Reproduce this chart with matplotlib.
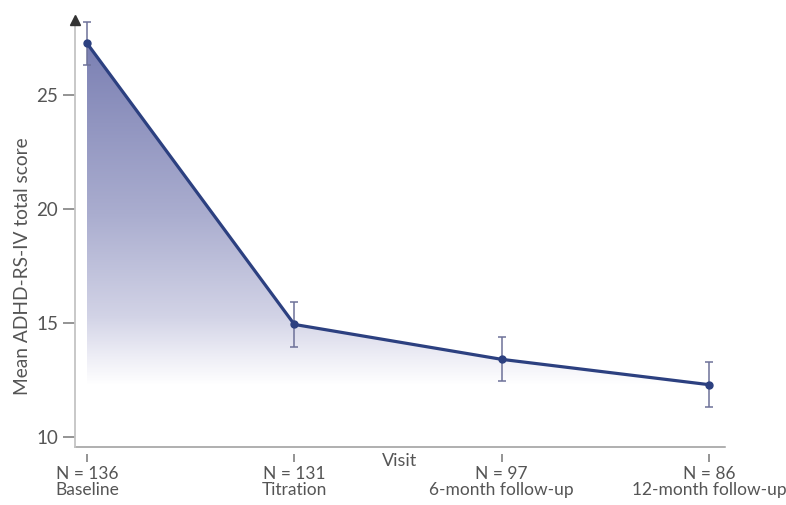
import matplotlib.pyplot as plt
import numpy as np
from matplotlib.colors import LinearSegmentedColormap
from matplotlib.patches import Polygon

visits = ["Baseline", "Titration", "6-month follow-up", "12-month follow-up"]
n_patients = [136, 131, 97, 86]
mean_score = [27.25, 14.93, 13.40, 12.29]
error = [0.95, 0.97, 0.97, 0.98]

LINE_COLOR = "#2c4080"
ERR_COLOR = "#6d7199"
AXIS_COLOR = "#9a9a9a"
TEXT_COLOR = "#555555"

plt.rcParams["font.family"] = ["Lato", "DejaVu Sans"]

fig = plt.figure(figsize=(7.86, 5.05), dpi=100)
ax = fig.add_axes([0.0954, 0.1149, 0.8270, 0.8450])

x = np.arange(len(visits))
y = np.array(mean_score)
ax.set_xlim(-0.058, 3.077)
ax.set_ylim(9.56, 28.26)

# gradient fill under the line, down to the last mean
cmap = LinearSegmentedColormap.from_list(
    "fade", [(0.0, "#ffffff"), (0.08, "#eeeef6"), (0.2, "#d2d3e6"),
             (0.5, "#aaadcf"), (1.0, "#7b80b3")])
grad = np.linspace(0, 1, 256).reshape(-1, 1)
bottom = y[-1]
img = ax.imshow(grad, cmap=cmap, aspect="auto", origin="lower",
                extent=[x[0], x[-1], bottom, y.max()], zorder=1)
poly = Polygon(np.column_stack([np.r_[x, x[-1], x[0]], np.r_[y, bottom, bottom]]),
               closed=True, facecolor="none", edgecolor="none")
ax.add_patch(poly)
img.set_clip_path(poly)

ax.errorbar(x, y, yerr=error, fmt="none", ecolor=ERR_COLOR, elinewidth=1.1,
            capsize=3, capthick=1.1, zorder=2)
ax.plot(x, y, color=LINE_COLOR, lw=2.3, marker="o", ms=5, zorder=3)

# axis lines; x ticks sit a little below the axis line
for side in ["top", "right"]:
    ax.spines[side].set_visible(False)
ax.spines["left"].set_color("#c4c4c4")
ax.spines["left"].set_linewidth(1.3)
ax.spines["bottom"].set_position(("outward", 5))
ax.spines["bottom"].set_visible(False)
ax.plot([0, 1], [0, 0], transform=ax.transAxes, color=AXIS_COLOR, lw=1.1, clip_on=False)
ax.plot([0], [1.0], transform=ax.transAxes, marker="^", color="#333333", ms=7,
        clip_on=False, zorder=5)

ax.set_yticks([10, 15, 20, 25])
ax.tick_params(axis="y", length=9, width=1.1, color="#777777", labelsize=13.5,
               labelcolor=TEXT_COLOR, pad=3)
ax.set_xticks(x)
ax.set_xticklabels([f"N = {n}\n{v}" for n, v in zip(n_patients, visits)])
ax.tick_params(axis="x", length=6, width=1.1, color="#777777", labelsize=12.5,
               labelcolor=TEXT_COLOR, pad=3)
for lbl in ax.get_xticklabels():
    lbl.set_linespacing(1.0)

ax.set_ylabel("Mean ADHD-RS-IV total score", fontsize=13.8, color=TEXT_COLOR)
ax.yaxis.set_label_coords(-0.067, 0.424)
ax.text(0.5, -0.015, "Visit", transform=ax.transAxes, ha="center", va="top",
        fontsize=13, color=TEXT_COLOR)

fig.savefig("out.png", dpi=100)
